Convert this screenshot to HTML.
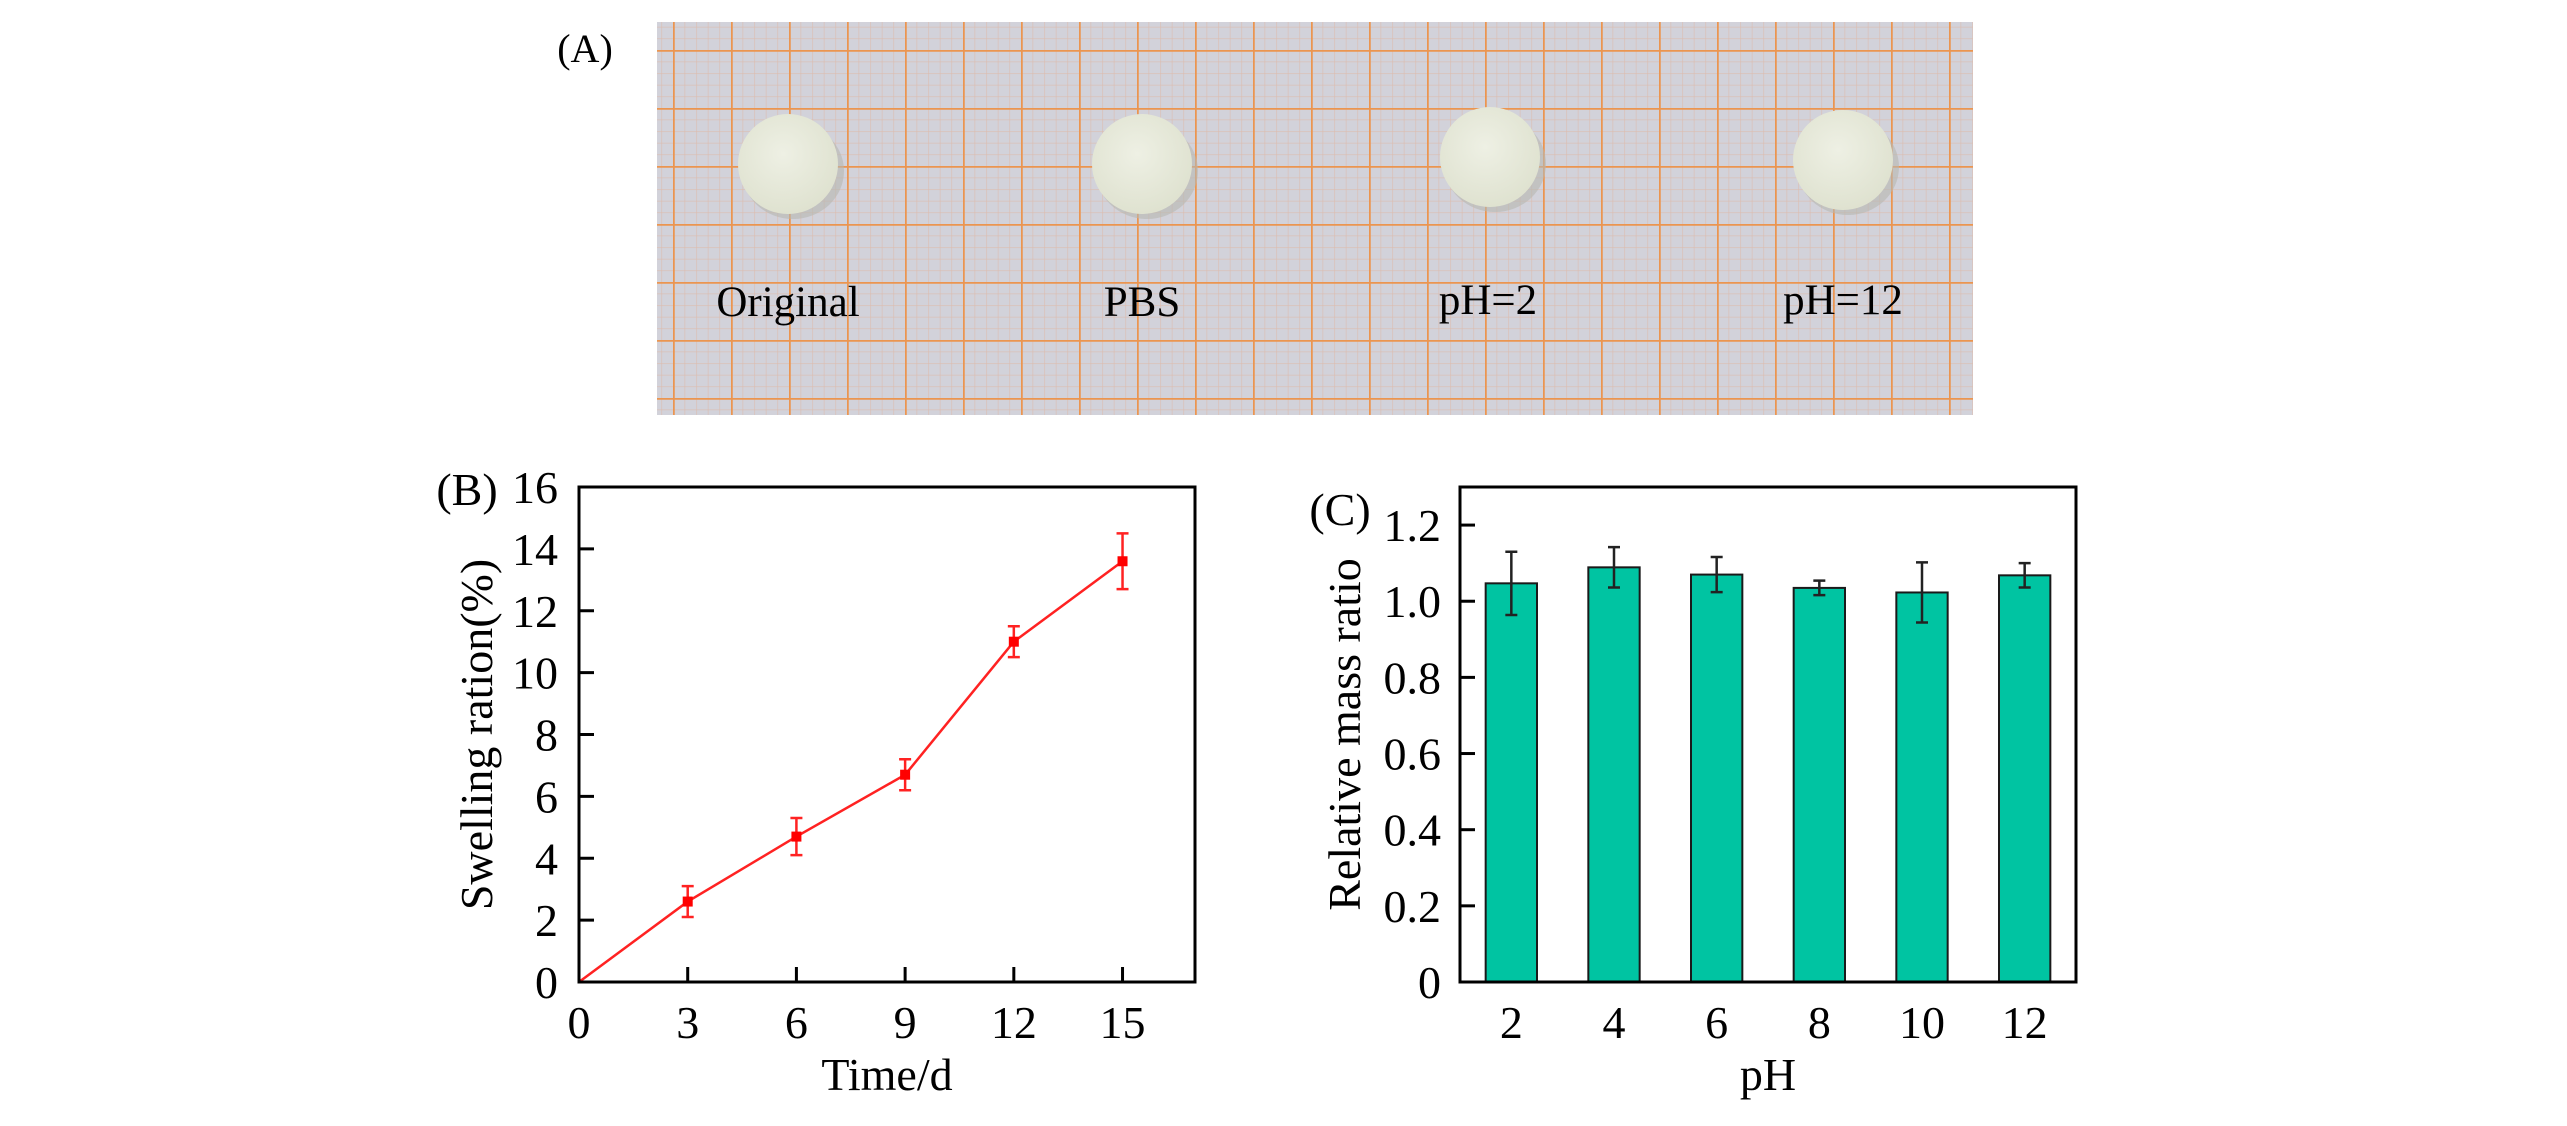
<!DOCTYPE html>
<html><head><meta charset="utf-8"><style>
html,body{margin:0;padding:0;background:#fff;}
svg{display:block;font-family:"Liberation Serif",serif;}
</style></head><body>
<svg id="fig" width="2567" height="1126" viewBox="0 0 2567 1126" xmlns="http://www.w3.org/2000/svg">
<defs>
<pattern id="minor" x="673" y="50" width="11.6" height="11.6" patternUnits="userSpaceOnUse">
<path d="M0 0V11.6M0 0H11.6" stroke="#dcbcae" stroke-width="1.2" fill="none"/>
</pattern>
<pattern id="major" x="673" y="50" width="58" height="58" patternUnits="userSpaceOnUse">
<path d="M0 0V58M0 0H58" stroke="#eb9550" stroke-width="3.5" fill="none"/>
</pattern>
<radialGradient id="disk" cx="0.45" cy="0.4" r="0.6"><stop offset="0" stop-color="#eef0e4"/><stop offset="1" stop-color="#dfe2d0"/></radialGradient>
</defs>
<g>
<text x="585" y="62" font-size="40" text-anchor="middle">(A)</text>
<g>
<rect x="657" y="22" width="1316" height="393" fill="#d2d2da"/>
<rect x="657" y="22" width="1316" height="393" fill="url(#minor)"/>
<rect x="657" y="22" width="1316" height="393" fill="url(#major)"/>
<g><ellipse cx="793" cy="171" rx="51" ry="48" fill="#b8b8b0" opacity="0.6"/><circle cx="788" cy="164" r="50" fill="url(#disk)"/></g>
<g><ellipse cx="1147" cy="171" rx="51" ry="48" fill="#b8b8b0" opacity="0.6"/><circle cx="1142" cy="164" r="50" fill="url(#disk)"/></g>
<g><ellipse cx="1495" cy="164" rx="51" ry="48" fill="#b8b8b0" opacity="0.6"/><circle cx="1490" cy="157" r="50" fill="url(#disk)"/></g>
<g><ellipse cx="1848" cy="167" rx="51" ry="48" fill="#b8b8b0" opacity="0.6"/><circle cx="1843" cy="160" r="50" fill="url(#disk)"/></g>
<text x="788" y="316" font-size="43" text-anchor="middle">Original</text>
<text x="1142" y="316" font-size="43" text-anchor="middle">PBS</text>
<text x="1488" y="314" font-size="43" text-anchor="middle">pH=2</text>
<text x="1843" y="314" font-size="43" text-anchor="middle">pH=12</text>
</g>
</g>
<g id="chartB"></g>
<g id="chartC"></g>
</svg>
<script>
// Panel B data
const bDays = [0, 3, 6, 9, 12, 15];
const bSwelling = [0, 2.6, 4.7, 6.7, 11.0, 13.6];
const bErr = [0, 0.5, 0.6, 0.5, 0.5, 0.9];
const bXTicks = [0, 3, 6, 9, 12, 15];
const bYTicks = [0, 2, 4, 6, 8, 10, 12, 14, 16];
// Panel C data
const cCats = ["2", "4", "6", "8", "10", "12"];
const cMass = [1.047, 1.089, 1.070, 1.035, 1.023, 1.068];
const cErr = [0.083, 0.053, 0.046, 0.019, 0.079, 0.032];
const cYTicks = ["0", "0.2", "0.4", "0.6", "0.8", "1.0", "1.2"];

const NS = "http://www.w3.org/2000/svg";
function mk(parent, tag, attrs, text) {
  const e = document.createElementNS(NS, tag);
  for (const k in attrs) e.setAttribute(k, attrs[k]);
  if (text !== undefined) e.textContent = text;
  parent.appendChild(e);
  return e;
}
const FS = 46;

// ---------- Panel B ----------
(function () {
  const g = document.getElementById("chartB");
  const L = 579, R = 1195, T = 487, B = 982;
  const xMax = 17, yMax = 16;
  const sx = v => L + (v / xMax) * (R - L);
  const sy = v => B - (v / yMax) * (B - T);
  let t = mk(g, "text", {x: 467, y: 505, "font-size": FS, "text-anchor": "middle"}, "(B)");
  
  
  bYTicks.forEach(v => {
    if (v > 0 && v < yMax) {
      const l = mk(g, "line", {x1: L, x2: L + 15, y1: sy(v), y2: sy(v), stroke: "#000", "stroke-width": 3});
      
      
    }
    const tx = mk(g, "text", {x: 558, y: sy(v) + 16, "font-size": FS, "text-anchor": "end"}, String(v));
    
    
  });
  bXTicks.forEach(v => {
    if (v > 0) {
      const l = mk(g, "line", {x1: sx(v), x2: sx(v), y1: B, y2: B - 15, stroke: "#000", "stroke-width": 3});
      
      
    }
    const tx = mk(g, "text", {x: sx(v), y: 1038, "font-size": FS, "text-anchor": "middle"}, String(v));
    
    
  });
  const line = mk(g, "polyline", {points: bDays.map((d, i) => sx(d) + "," + sy(bSwelling[i])).join(" "), fill: "none", stroke: "#f22", "stroke-width": 2.5});
  
  
  bDays.forEach((d, i) => {
    if (i === 0) return;
    const x = sx(d), y1 = sy(bSwelling[i] - bErr[i]), y2 = sy(bSwelling[i] + bErr[i]);
    const eb = mk(g, "path", {d: `M${x} ${y1}V${y2}M${x - 6} ${y1}H${x + 6}M${x - 6} ${y2}H${x + 6}`, stroke: "#f22", "stroke-width": 2.5, fill: "none"});
    
    
    const p = mk(g, "rect", {x: x - 5, y: sy(bSwelling[i]) - 5, width: 10, height: 10, fill: "#f00"});
    
    
  });
  const fr = mk(g, "rect", {x: L, y: T, width: R - L, height: B - T, fill: "none", stroke: "#000", "stroke-width": 3});
  
  
  const xt = mk(g, "text", {x: (L + R) / 2, y: 1090, "font-size": FS, "text-anchor": "middle"}, "Time/d");
  
  
  const yt = mk(g, "text", {x: 0, y: 0, "font-size": FS, "text-anchor": "middle", transform: `translate(492 ${(T + B) / 2}) rotate(-90)`}, "Swelling ration(%)");
  
  
})();

// ---------- Panel C ----------
(function () {
  const g = document.getElementById("chartC");
  const L = 1460, R = 2076, T = 487, B = 982;
  const yMax = 1.3;
  const band = (R - L) / cCats.length;
  const cx = i => L + band * (i + 0.5);
  const sy = v => B - (v / yMax) * (B - T);
  const t = mk(g, "text", {x: 1340, y: 525, "font-size": FS, "text-anchor": "middle"}, "(C)");
  
  
  cMass.forEach((v, i) => {
    const bw = band * 0.5;
    const r = mk(g, "rect", {x: cx(i) - bw / 2, y: sy(v), width: bw, height: B - sy(v), fill: "#00c4a2", stroke: "#1a1a1a", "stroke-width": 2});
    
    
    const x = cx(i), y1 = sy(v - cErr[i]), y2 = sy(v + cErr[i]);
    const eb = mk(g, "path", {d: `M${x} ${y1}V${y2}M${x - 6} ${y1}H${x + 6}M${x - 6} ${y2}H${x + 6}`, stroke: "#222", "stroke-width": 2.5, fill: "none"});
    
    
    const tx = mk(g, "text", {x: x, y: 1038, "font-size": FS, "text-anchor": "middle"}, cCats[i]);
    
    
  });
  cYTicks.forEach(s => {
    const v = parseFloat(s);
    if (v > 0) {
      const l = mk(g, "line", {x1: L, x2: L + 15, y1: sy(v), y2: sy(v), stroke: "#000", "stroke-width": 3});
      
      
    }
    const tx = mk(g, "text", {x: 1441, y: sy(v) + 16, "font-size": FS, "text-anchor": "end"}, s);
    
    
  });
  const fr = mk(g, "rect", {x: L, y: T, width: R - L, height: B - T, fill: "none", stroke: "#000", "stroke-width": 3});
  
  
  const xt = mk(g, "text", {x: (L + R) / 2, y: 1090, "font-size": FS, "text-anchor": "middle"}, "pH");
  
  
  const yt = mk(g, "text", {x: 0, y: 0, "font-size": FS, "text-anchor": "middle", transform: `translate(1360 ${(T + B) / 2}) rotate(-90)`}, "Relative mass ratio");
  
  
})();
</script>
</body></html>
